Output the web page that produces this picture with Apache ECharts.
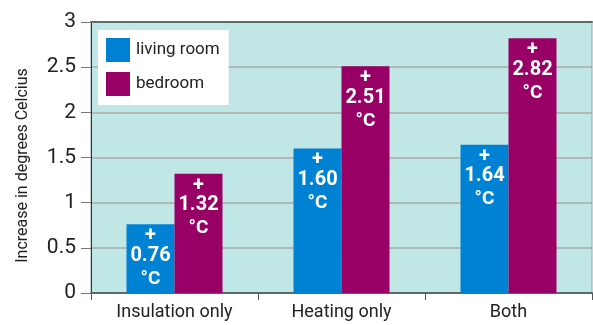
<!DOCTYPE html>
<html>
<head>
<meta charset="utf-8">
<script src="https://cdn.jsdelivr.net/npm/echarts@6/dist/echarts.min.js"></script>
<style>
  html, body { margin: 0; padding: 0; background: #fff; }
  #chart { width: 593px; height: 325px; }
</style>
</head>
<body>
<div id="chart"></div>
<script>
const categories = ["Insulation only", "Heating only", "Both"];
const livingRoom = [0.76, 1.60, 1.64];
const bedroom = [1.32, 2.51, 2.82];
const yTicks = [0, 0.5, 1, 1.5, 2, 2.5, 3];

const font = "Roboto, sans-serif";

const chart = echarts.init(document.getElementById("chart"));

// white "+ value °C" stacked inside the top of each bar
const barLabel = {
  show: true,
  position: "insideTop",
  distance: 4,
  color: "#fff",
  fontFamily: font,
  fontWeight: "bold",
  formatter: (p) => "{p|+}\n{v|" + p.value.toFixed(2) + "}\n{u|°C}",
  rich: {
    p: { color: "#fff", fontFamily: font, fontWeight: "bold", fontSize: 20, lineHeight: 16 },
    v: { color: "#fff", fontFamily: font, fontWeight: "bold", fontSize: 20, lineHeight: 23 },
    u: { color: "#fff", fontFamily: font, fontWeight: "bold", fontSize: 19, lineHeight: 23 },
  },
};

const option = {
  animation: false,
  textStyle: { fontFamily: font },
  grid: {
    left: 91,
    right: 1,
    top: 22,
    bottom: 32,
    show: true,
    backgroundColor: "#c1e6e6",
    borderColor: "#8fa8a8",
    borderWidth: 1,
  },
  legend: {
    orient: "vertical",
    left: 98,
    top: 30,
    backgroundColor: "#fff",
    padding: [8, 9, 9, 8],
    itemWidth: 24,
    itemHeight: 24,
    itemGap: 10,
    icon: "rect",
    textStyle: { fontFamily: font, fontSize: 17, color: "#222", padding: [0, 0, 0, 1] },
    data: ["living room", "bedroom"],
  },
  xAxis: [
    {
      type: "category",
      data: categories,
      axisLine: { lineStyle: { color: "#5a6a6a", width: 2 } },
      axisTick: { show: true, length: 7, lineStyle: { color: "#555" } },
      axisLabel: { color: "#222", fontSize: 18, fontFamily: font, margin: 10 },
    },
    {
      type: "category",
      data: categories,
      position: "top",
      axisLine: { lineStyle: { color: "#5a6e6e", width: 2 } },
      axisTick: { show: false },
      axisLabel: { show: false },
    },
  ],
  yAxis: {
    type: "value",
    min: 0,
    max: 3,
    interval: 0.5,
    name: "Increase in degrees Celcius",
    nameLocation: "middle",
    nameGap: 60,
    nameTextStyle: { color: "#222", fontSize: 16, fontFamily: font, padding: [0, 16, 0, 0] },
    axisLine: { show: true, lineStyle: { color: "#333", width: 1 } },
    axisTick: { show: true, length: 10, lineStyle: { color: "#777" } },
    axisLabel: {
      color: "#222",
      fontSize: 21,
      fontFamily: font,
      margin: 15,
      formatter: (v) => (yTicks.includes(v) ? String(v) : ""),
    },
    splitLine: { show: true, lineStyle: { color: "#aaaaaa", width: 1.5 } },
  },
  series: [
    {
      name: "living room",
      type: "bar",
      data: livingRoom,
      barWidth: 48,
      barGap: "0%",
      itemStyle: { color: "#0082d4" },
      label: barLabel,
    },
    {
      name: "bedroom",
      type: "bar",
      data: bedroom,
      barWidth: 48,
      barGap: "0%",
      itemStyle: { color: "#990066" },
      label: barLabel,
    },
  ],
};

chart.setOption(option);
</script>
</body>
</html>
